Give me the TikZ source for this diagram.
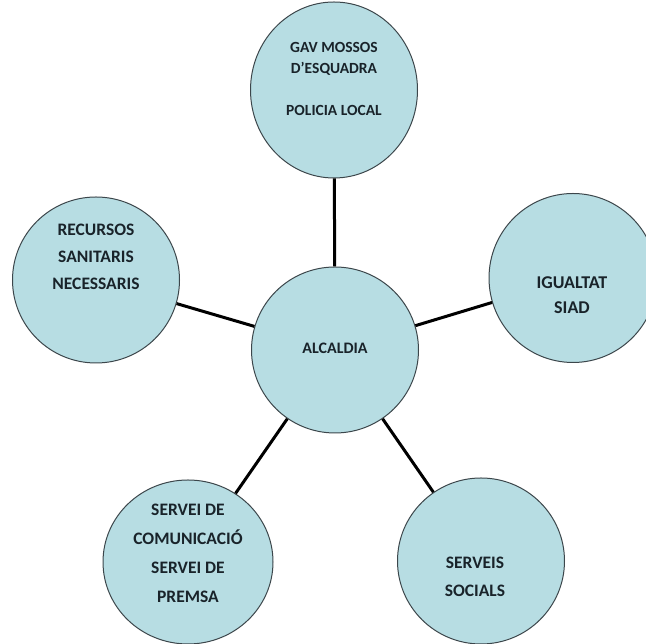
\documentclass[tikz,border=0pt]{standalone}
\usepackage{fontspec}
\setmainfont{Carlito}
\usetikzlibrary{shapes.geometric}
\definecolor{areablue}{RGB}{183,221,227}
\definecolor{areaedge}{RGB}{60,70,75}
\definecolor{areatext}{RGB}{25,35,42}
\begin{document}
\begin{tikzpicture}[x=1pt,y=1pt]
\tikzstyle{area}=[ellipse, draw=areaedge, line width=1pt, fill=areablue,
  minimum width=167pt, minimum height=166pt, inner sep=0pt]
\tikzstyle{lbl}=[align=center, inner sep=0pt, text=areatext,
  font=\bfseries\fontsize{17.5}{27}\selectfont]
\tikzstyle{link}=[black, line width=3pt]
\useasboundingbox (0,0) rectangle (646,644);
% areas
\node [area, minimum height=176pt] (gav) at (334,554) {};
\node [area] (rec) at (96,364) {};
\node [area] (alc) at (335,294) {};
\node [area, minimum width=168pt, minimum height=169pt] (igu) at (573,366) {};
\node [area, minimum width=170pt, minimum height=164pt] (com) at (188,82) {};
\node [area] (soc) at (481,83) {};
% links
\draw [link] (alc) -- (gav);
\draw [link] (alc) -- (rec);
\draw [link] (alc) -- (igu);
\draw [link] (alc) -- (com);
\draw [link] (alc) -- (soc);
% texts
\node [lbl, font=\bfseries\fontsize{15.5}{21}\selectfont] (gavtxt) at ([yshift=11.5]gav)
  {GAV MOSSOS\\D'ESQUADRA\\[21pt]POLICIA LOCAL};
\node [lbl] (rectxt) at ([yshift=23]rec) {RECURSOS\\SANITARIS\\NECESSARIS};
\node [lbl, font=\bfseries\fontsize{16}{27}\selectfont] (alctxt) at ([yshift=2]alc) {ALCALDIA};
\node [lbl, font=\bfseries\fontsize{18}{25}\selectfont] (igutxt) at ([xshift=-1,yshift=-17.5]igu)
  {IGUALTAT\\SIAD};
\node [lbl, font=\bfseries\fontsize{17.5}{29}\selectfont] (comtxt) at ([yshift=8.5]com)
  {SERVEI DE\\COMUNICACIÓ\\SERVEI DE\\PREMSA};
\node [lbl, font=\bfseries\fontsize{17.5}{28}\selectfont] (soctxt) at ([xshift=-6,yshift=-16]soc)
  {SERVEIS\\SOCIALS};
\end{tikzpicture}
\end{document}
